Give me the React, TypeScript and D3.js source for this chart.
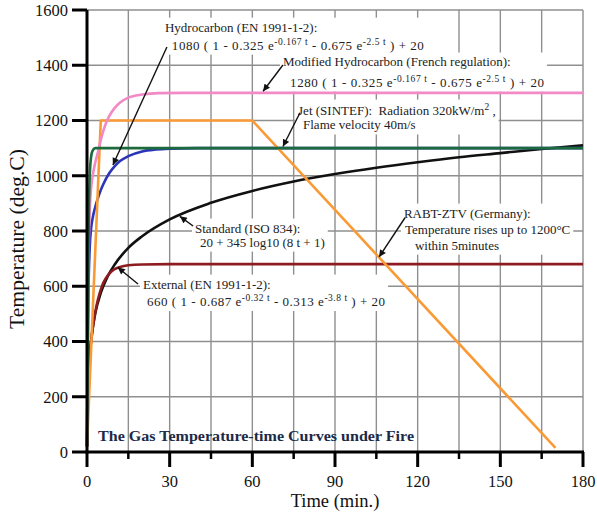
import React, { useEffect, useRef } from 'react';
import * as d3 from 'd3';

const W = 597;
const H = 515;
const margin = { top: 10, right: 14, bottom: 63, left: 87 };
const FONT = '"Liberation Serif", "Times New Roman", serif';

// axis ticks
const xTicks = [0, 30, 60, 90, 120, 150, 180];
const xMinorTicks = [15, 45, 75, 105, 135, 165];
const yTicks = [0, 200, 400, 600, 800, 1000, 1200, 1400, 1600];
const xGrid = [15, 30, 45, 60, 75, 90, 105, 120, 135, 150, 165, 180];
const yGrid = [200, 400, 600, 800, 1000, 1200, 1400, 1600];

// Standard (ISO 834)
const standardTime = [0, 0.25, 0.5, 1, 2, 3, 5, 7.5, 10, 15, 20, 30, 45, 60, 75, 90, 105, 120, 135, 150, 165, 180];
const standardTemp = [20, 185, 261, 349, 444, 502, 576, 636, 678, 739, 781, 842, 902, 945, 979, 1006, 1029, 1049, 1067, 1082, 1097, 1110];

// External (EN 1991-1-2)
const externalTime = [0, 0.5, 1, 2, 3, 4, 5, 6, 8, 10, 12, 15, 20, 30, 180];
const externalTemp = [20, 263, 346, 441, 506, 554, 588, 614, 645, 662, 670, 676, 679, 680, 680];

// Hydrocarbon (EN 1991-1-2)
const hydroTime = [0, 0.25, 0.5, 1, 1.5, 2, 3, 4, 5, 6, 8, 10, 12, 15, 20, 25, 30, 40, 180];
const hydroTemp = [20, 373, 568, 743, 810, 844, 887, 920, 948, 971, 1008, 1034, 1053, 1071, 1088, 1095, 1098, 1100, 1100];

// RABT-ZTV (Germany)
const rabtTime = [0, 5, 60, 170];
const rabtTemp = [20, 1200, 1200, 15];

// Modified Hydrocarbon (French regulation)
const modHydroTime = [0, 0.25, 0.5, 1, 1.5, 2, 3, 4, 5, 6.5, 8, 10, 12, 15, 20, 26, 35, 180];
const modHydroTemp = [20, 439, 670, 877, 956, 996, 1048, 1087, 1130, 1180, 1215, 1245, 1265, 1283, 1294, 1299, 1300, 1300];

// Jet (SINTEF)
const jetTime = [0, 0.3, 0.6, 1, 1.4, 2, 3, 180];
const jetTemp = [20, 400, 800, 1000, 1060, 1090, 1100, 1100];

const series = [
  { name: 'Standard', time: standardTime, temp: standardTemp, color: '#111111', linear: false },
  { name: 'External', time: externalTime, temp: externalTemp, color: '#8e1b1f', linear: false },
  { name: 'Hydrocarbon', time: hydroTime, temp: hydroTemp, color: '#2a35b8', linear: false },
  { name: 'RABT-ZTV', time: rabtTime, temp: rabtTemp, color: '#f99a35', linear: true },
  { name: 'Modified Hydrocarbon', time: modHydroTime, temp: modHydroTemp, color: '#f28ac6', linear: false },
  { name: 'Jet', time: jetTime, temp: jetTemp, color: '#1d6b3c', linear: false },
];

// annotation texts, anchored in data units [time, temperature]; span = stretched line length
const annotations = [
  {
    lines: ['Hydrocarbon (EN 1991-1-2):', '1080 ( 1 - 0.325 e^{-0.167 t} - 0.675 e^{-2.5 t} ) + 20'],
    span: [0, 252],
    at: [[28.3, 1538], [30.8, 1473]],
    from: [29.0, 1466],
    to: [9.4, 1039],
  },
  {
    lines: ['Modified Hydrocarbon (French regulation):', '1280 ( 1 - 0.325 e^{-0.167 t} - 0.675 e^{-2.5 t} ) + 20'],
    span: [0, 254],
    at: [[71.1, 1412], [73.7, 1339]],
    from: [71.1, 1401],
    to: [63.9, 1306],
  },
  {
    lines: ['Jet (SINTEF):\u00a0 Radiation 320kW/m^{2} ,', 'Flame velocity 40m/s'],
    span: [0, 0],
    at: [[76.6, 1238], [78.4, 1184]],
    from: [77.3, 1228],
    to: [71.1, 1106],
  },
  {
    lines: ['Standard (ISO 834):', '20 + 345 log10 (8 t + 1)'],
    span: [0, 0],
    at: [[39.2, 811], [41.0, 760]],
    from: [38.5, 818],
    to: [33.7, 853],
  },
  {
    lines: ['External (EN 1991-1-2):', '660 ( 1 - 0.687 e^{-0.32 t} - 0.313 e^{-3.8 t} ) + 20'],
    span: [0, 238],
    at: [[20.3, 608], [21.8, 545]],
    from: [18.5, 608],
    to: [11.2, 668],
  },
  {
    lines: ['RABT-ZTV (Germany):', 'Temperature rises up to 1200°C', 'within 5minutes'],
    span: [0, 0, 0],
    at: [[115.0, 865], [115.4, 807], [119.0, 749]],
    from: [115.4, 848],
    to: [106.0, 706],
  },
];

export default function App() {
  const ref = useRef<SVGSVGElement>(null);

  useEffect(() => {
    const svg = d3.select(ref.current);
    svg.selectAll('*').remove();

    const x = d3.scaleLinear().domain([0, 180]).range([margin.left, W - margin.right]);
    const y = d3.scaleLinear().domain([0, 1600]).range([H - margin.bottom, margin.top]);

    svg.append('defs').append('marker')
      .attr('id', 'arrow')
      .attr('viewBox', '0 0 10 10')
      .attr('refX', 10)
      .attr('refY', 5)
      .attr('markerUnits', 'userSpaceOnUse')
      .attr('markerWidth', 8)
      .attr('markerHeight', 7)
      .attr('orient', 'auto')
      .append('path')
      .attr('d', 'M0,0 L10,5 L0,10 z')
      .attr('fill', '#111');

    // grid
    const grid = svg.append('g').attr('stroke', '#8f8f8f').attr('stroke-width', 1.4);
    grid.selectAll('.gx').data(xGrid).join('line')
      .attr('x1', d => x(d)).attr('x2', d => x(d))
      .attr('y1', y(0)).attr('y2', y(1600));
    grid.selectAll('.gy').data(yGrid).join('line')
      .attr('x1', x(0)).attr('x2', x(180))
      .attr('y1', d => y(d)).attr('y2', d => y(d));

    const boxes = svg.append('g');

    // curves
    const curves = svg.append('g').attr('fill', 'none');
    series.forEach(s => {
      const pts = s.time.map((t, i) => [t, s.temp[i]] as [number, number]);
      const line = d3.line<[number, number]>()
        .x(d => x(d[0]))
        .y(d => y(d[1]))
        .curve(s.linear ? d3.curveLinear : d3.curveMonotoneX);
      curves.append('path')
        .datum(pts)
        .attr('d', line)
        .attr('stroke', s.color)
        .attr('stroke-width', 2.6)
        .attr('stroke-linejoin', 'round');
    });

    // axes
    const axes = svg.append('g').attr('stroke', '#000');
    axes.append('line')
      .attr('x1', x(0)).attr('x2', x(0))
      .attr('y1', y(0) + 1.5).attr('y2', y(1600))
      .attr('stroke-width', 3);
    axes.append('line')
      .attr('x1', x(0) - 1.5).attr('x2', x(180) + 1)
      .attr('y1', y(0)).attr('y2', y(0))
      .attr('stroke-width', 3);
    axes.selectAll('.ty').data(yTicks).join('line')
      .attr('x1', x(0) - 15).attr('x2', x(0))
      .attr('y1', d => y(d)).attr('y2', d => y(d))
      .attr('stroke-width', 3);
    axes.selectAll('.tx').data(xTicks).join('line')
      .attr('x1', d => x(d)).attr('x2', d => x(d))
      .attr('y1', y(0)).attr('y2', y(0) + 15)
      .attr('stroke-width', 3);
    axes.selectAll('.tm').data(xMinorTicks).join('line')
      .attr('x1', d => x(d)).attr('x2', d => x(d))
      .attr('y1', y(0)).attr('y2', y(0) + 7)
      .attr('stroke-width', 2.5);

    const labels = svg.append('g').attr('font-family', FONT).attr('fill', '#111');
    labels.selectAll('.ly').data(yTicks).join('text')
      .attr('x', x(0) - 19)
      .attr('y', d => y(d))
      .attr('dy', '0.35em')
      .attr('text-anchor', 'end')
      .attr('font-size', 16.5)
      .text(d => d);
    labels.selectAll('.lx').data(xTicks).join('text')
      .attr('x', d => x(d))
      .attr('y', y(0) + 35)
      .attr('text-anchor', 'middle')
      .attr('font-size', 16.5)
      .text(d => d);

    labels.append('text')
      .attr('x', (x(0) + x(180)) / 2)
      .attr('y', H - 8)
      .attr('text-anchor', 'middle')
      .attr('font-size', 18.5)
      .text('Time (min.)');

    labels.append('text')
      .attr('transform', `translate(24,${(y(0) + y(1600)) / 2 + 8}) rotate(-90)`)
      .attr('text-anchor', 'middle')
      .attr('font-size', 20)
      .attr('textLength', 180)
      .attr('lengthAdjust', 'spacingAndGlyphs')
      .text('Temperature (deg.C)');

    labels.append('text')
      .attr('x', x(0) + 11)
      .attr('y', y(0) - 11)
      .attr('font-size', 14.5)
      .attr('font-weight', 'bold')
      .attr('fill', '#1c2a48')
      .attr('textLength', 316)
      .attr('lengthAdjust', 'spacingAndGlyphs')
      .text('The Gas Temperature-time Curves under Fire');

    // annotations
    annotations.forEach(a => {
      const g = svg.append('g').attr('font-family', FONT).attr('font-size', 13).attr('fill', '#222');
      a.lines.forEach((ln, i) => {
        const txt = g.append('text')
          .attr('x', x(a.at[i][0]))
          .attr('y', y(a.at[i][1]))
          .attr('dy', '0.35em');
        if (a.span[i]) txt.attr('textLength', a.span[i]).attr('lengthAdjust', 'spacing');
        const parts = ln.split(/\^\{([^}]*)\}/);
        let raised = false;
        parts.forEach((p, k) => {
          if (p === '') return;
          const isSup = k % 2 === 1;
          const ts = txt.append('tspan').text(p);
          if (isSup) {
            ts.attr('font-size', 9.5).attr('dy', -5);
            raised = true;
          } else if (raised) {
            ts.attr('dy', 5);
            raised = false;
          }
        });
      });
      const node = g.node() as SVGGElement;
      const bb = node.getBBox();
      boxes.append('rect')
        .attr('x', bb.x - 3)
        .attr('y', bb.y - 2)
        .attr('width', bb.width + 6)
        .attr('height', bb.height + 4)
        .attr('fill', '#fff');
      svg.append('line')
        .attr('x1', x(a.from[0])).attr('y1', y(a.from[1]))
        .attr('x2', x(a.to[0])).attr('y2', y(a.to[1]))
        .attr('stroke', '#111')
        .attr('stroke-width', 1.4)
        .attr('marker-end', 'url(#arrow)');
    });
  }, []);

  return (
    <svg
      ref={ref}
      width={W}
      height={H}
      style={{ position: 'absolute', left: 0, top: 0, background: '#fff', display: 'block' }}
    />
  );
}
